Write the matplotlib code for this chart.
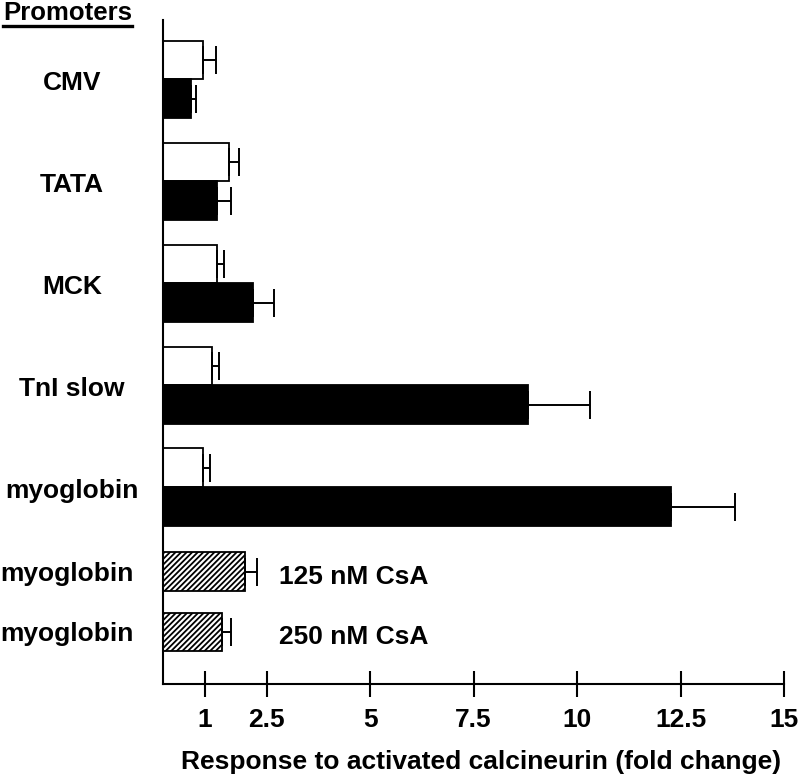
import matplotlib
matplotlib.use("Agg")
import numpy as np
from matplotlib import pyplot as plt
from matplotlib.lines import Line2D
from matplotlib.transforms import blended_transform_factory

plt.rcParams["font.family"] = ["Liberation Sans", "DejaVu Sans"]
plt.rcParams["font.weight"] = "bold"
plt.rcParams["hatch.linewidth"] = 1.3

# Fold change values
promoters = ["CMV", "TATA", "MCK", "TnI slow", "myoglobin"]
basal = [0.97, 1.60, 1.29, 1.19, 0.97]
basal_err = [0.31, 0.22, 0.19, 0.17, 0.17]
calcineurin = [0.66, 1.29, 2.16, 8.81, 12.26]
calcineurin_err = [0.14, 0.36, 0.51, 1.51, 1.55]

csa_promoter = ["myoglobin", "myoglobin"]
csa_labels = ["125 nM CsA", "250 nM CsA"]
csa = [1.97, 1.43]
csa_err = [0.29, 0.20]

xticks = [1, 2.5, 5, 7.5, 10, 12.5, 15]
xtick_labels = ["1", "2.5", "5", "7.5", "10", "12.5", "15"]

fig = plt.figure(figsize=(8, 7.79), dpi=100)
ax = fig.add_axes([0.204, 0.122, 0.776, 0.852])

bar_h = 0.38
group_y = 0.58 + np.arange(len(promoters))
csa_y = np.array([5.41, 6.0])

err_kw = dict(ecolor="black", elinewidth=1.4, capsize=10, capthick=1.4)

ax.barh(group_y - bar_h / 2, basal, height=bar_h, color="white",
        edgecolor="black", linewidth=1.3,
        xerr=[np.zeros(len(basal)), basal_err], error_kw=err_kw)
ax.barh(group_y + bar_h / 2, calcineurin, height=bar_h, color="black",
        edgecolor="black", linewidth=1.3,
        xerr=[np.zeros(len(calcineurin)), calcineurin_err], error_kw=err_kw)
ax.barh(csa_y, csa, height=bar_h, color="white", edgecolor="black",
        hatch="//////", linewidth=1.3,
        xerr=[np.zeros(len(csa)), csa_err], error_kw=err_kw)

for y, lab in zip(csa_y, csa_labels):
    ax.text(2.8, y + 0.05, lab, ha="left", va="center", fontsize=19,
            fontweight="bold")

trans = blended_transform_factory(fig.transFigure, ax.transData)
for y, name in zip(group_y, promoters):
    ax.text(0.09, y + 0.04, name, transform=trans, ha="center", va="center",
            fontsize=19, fontweight="bold")
for y, name in zip(csa_y, csa_promoter):
    ax.text(0.084, y + 0.02, name, transform=trans, ha="center", va="center",
            fontsize=19, fontweight="bold")

ax.set_xlim(0, 15)
ax.set_ylim(6.51, 0)
ax.set_xticks(xticks)
ax.set_xticklabels(xtick_labels, fontsize=19, fontweight="bold")
ax.set_yticks([])
ax.tick_params(axis="x", direction="inout", length=19, width=1.5, pad=8)
for side in ["top", "right"]:
    ax.spines[side].set_visible(False)
for side in ["left", "bottom"]:
    ax.spines[side].set_linewidth(1.5)

fig.text(481 / 800, 1 - 762 / 779,
         "Response to activated calcineurin (fold change)",
         ha="center", va="center", fontsize=19, fontweight="bold")

title = fig.text(0.004, 1 - 13 / 779, "Promoters", ha="left", va="center",
                 fontsize=18.5, fontweight="bold")
fig.canvas.draw()
bb = title.get_window_extent().transformed(fig.transFigure.inverted())
fig.add_artist(Line2D([bb.x0, bb.x1], [1 - 26 / 779] * 2, color="black",
                      linewidth=2.4, transform=fig.transFigure))

fig.savefig("out.png", dpi=100)
